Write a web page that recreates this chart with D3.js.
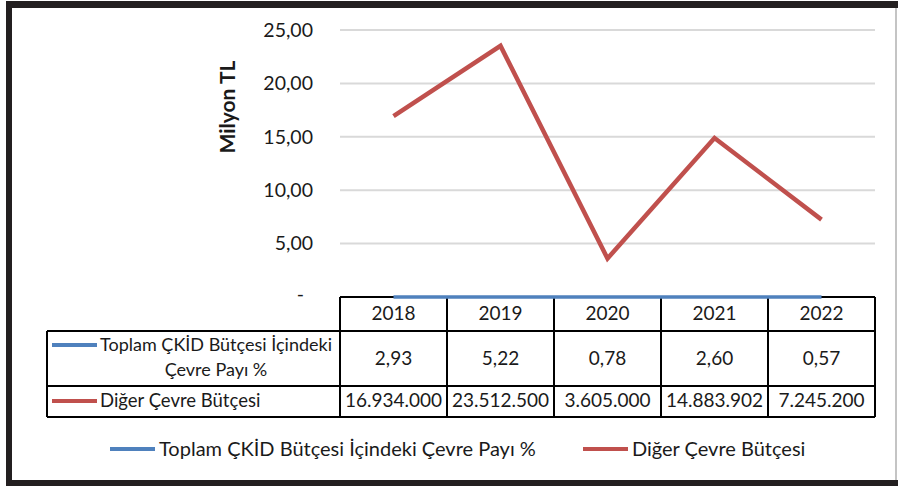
<!DOCTYPE html>
<html lang="tr">
<head>
<meta charset="utf-8">
<title>Çevre Bütçesi</title>
<style>
    body { margin: 0; background: #fff; }
    text { font-family: Lato, "Open Sans", sans-serif; fill: #1a1a1a; }
</style>
</head>
<body>
<script src="https://cdnjs.cloudflare.com/ajax/libs/d3/7.8.5/d3.min.js"></script>
<script>
// data
var years = ["2018", "2019", "2020", "2021", "2022"];
var cevrePayi = [2.93, 5.22, 0.78, 2.60, 0.57];
var digerButce = [16934000, 23512500, 3605000, 14883902, 7245200];
var seriesNames = ["Toplam ÇKİD Bütçesi İçindeki Çevre Payı %", "Diğer Çevre Bütçesi"];
var yTicks = [0, 5000000, 10000000, 15000000, 20000000, 25000000];

var colors = ["#4f81bd", "#c0504d"];
var W = 898, H = 486;

var tr = d3.formatLocale({decimal: ",", thousands: ".", grouping: [3], currency: ["", " TL"]});
var fmtMil = tr.format(",.2f");
var fmtInt = tr.format(",d");
var fmtPct = tr.format(".2f");

var svg = d3.select("body").append("svg")
    .attr("width", W)
    .attr("height", H);

var x = d3.scaleBand().domain(years).range([340, 875]);
var y = d3.scaleLinear().domain([0, 25000000]).range([297, 30]);

// gridlines
svg.append("g").selectAll("line")
    .data(yTicks.filter(function(d) { return d > 0; }))
    .enter().append("line")
    .attr("x1", 340).attr("x2", 875)
    .attr("y1", function(d) { return y(d); })
    .attr("y2", function(d) { return y(d); })
    .attr("stroke", "#d9d9d9")
    .attr("stroke-width", 2);

// y axis labels
var yAxis = svg.append("g")
    .attr("transform", "translate(340,0)")
    .call(d3.axisLeft(y).tickValues(yTicks).tickSize(0).tickPadding(27)
        .tickFormat(function(d) { return d === 0 ? "-" : fmtMil(d / 1e6); }));
yAxis.select(".domain").remove();
yAxis.selectAll("text")
    .attr("font-family", "Lato")
    .attr("font-size", 19.5)
    .attr("fill", "#1a1a1a");
yAxis.selectAll(".tick").filter(function(d) { return d === 0; })
    .select("text").attr("x", -36).attr("dy", "0.2em");

svg.append("text")
    .attr("transform", "translate(235,107) rotate(-90)")
    .attr("text-anchor", "middle")
    .attr("font-size", 21)
    .attr("font-weight", "bold")
    .text("Milyon TL");

// data table
var tbl = svg.append("g").attr("stroke", "#000").attr("stroke-width", 2);
var edges = years.map(function(d) { return x(d); }).concat([875]);
var rowY = [297, 331, 386, 417];
tbl.append("line").attr("x1", 340).attr("x2", 875).attr("y1", rowY[0]).attr("y2", rowY[0]);
rowY.slice(1).forEach(function(r) {
    tbl.append("line").attr("x1", 47).attr("x2", 875).attr("y1", r).attr("y2", r);
});
tbl.append("line").attr("x1", 47).attr("x2", 47).attr("y1", rowY[1]).attr("y2", rowY[3]);
edges.forEach(function(e) {
    tbl.append("line").attr("x1", e).attr("x2", e).attr("y1", rowY[0]).attr("y2", rowY[3]);
});

var cx = function(d) { return x(d) + x.bandwidth() / 2; };
svg.append("g").selectAll("text").data(years).enter().append("text")
    .attr("x", cx).attr("y", 320)
    .attr("text-anchor", "middle").attr("font-size", 19)
    .text(function(d) { return d; });
svg.append("g").selectAll("text").data(cevrePayi).enter().append("text")
    .attr("x", function(d, i) { return cx(years[i]); }).attr("y", 365)
    .attr("text-anchor", "middle").attr("font-size", 19)
    .text(function(d) { return fmtPct(d); });
svg.append("g").selectAll("text").data(digerButce).enter().append("text")
    .attr("x", function(d, i) { return cx(years[i]); }).attr("y", 407)
    .attr("text-anchor", "middle").attr("font-size", 19)
    .text(function(d) { return fmtInt(d); });

// row labels with legend keys
svg.append("line").attr("x1", 52).attr("x2", 97).attr("y1", 345).attr("y2", 345)
    .attr("stroke", colors[0]).attr("stroke-width", 4);
svg.append("text").attr("x", 216).attr("y", 351).attr("text-anchor", "middle")
    .attr("font-size", 18).text("Toplam ÇKİD Bütçesi İçindeki");
svg.append("text").attr("x", 216).attr("y", 376).attr("text-anchor", "middle")
    .attr("font-size", 18).text("Çevre Payı %");
svg.append("line").attr("x1", 52).attr("x2", 97).attr("y1", 401).attr("y2", 401)
    .attr("stroke", colors[1]).attr("stroke-width", 4);
svg.append("text").attr("x", 100).attr("y", 407)
    .attr("font-size", 18.5).text(seriesNames[1]);

// lines
var line = d3.line()
    .x(function(d, i) { return cx(years[i]); })
    .y(function(d) { return y(d); });
svg.append("path").datum(cevrePayi)
    .attr("d", line).attr("fill", "none")
    .attr("stroke", colors[0]).attr("stroke-width", 3.5);
svg.append("path").datum(digerButce)
    .attr("d", line).attr("fill", "none")
    .attr("stroke", colors[1]).attr("stroke-width", 4.5)
    .attr("stroke-linejoin", "miter");

// legend
var legendX = [110, 583];
seriesNames.forEach(function(n, i) {
    svg.append("line").attr("x1", legendX[i]).attr("x2", legendX[i] + 45)
        .attr("y1", 449).attr("y2", 449)
        .attr("stroke", colors[i]).attr("stroke-width", 4);
    svg.append("text").attr("x", legendX[i] + 49).attr("y", 456)
        .attr("font-size", 20).text(n);
});

// frame
var frame = svg.append("g").attr("stroke", "#231f20");
frame.append("line").attr("x1", 6).attr("x2", W).attr("y1", 4.5).attr("y2", 4.5).attr("stroke-width", 7);
frame.append("line").attr("x1", 9).attr("x2", 9).attr("y1", 1).attr("y2", H).attr("stroke-width", 6);
frame.append("line").attr("x1", 6).attr("x2", W).attr("y1", 483.5).attr("y2", 483.5).attr("stroke-width", 7);
frame.append("line").attr("x1", 896).attr("x2", 896).attr("y1", 8).attr("y2", 480)
    .attr("stroke", "#b0b0b0").attr("stroke-width", 1.5);
</script>
</body>
</html>
